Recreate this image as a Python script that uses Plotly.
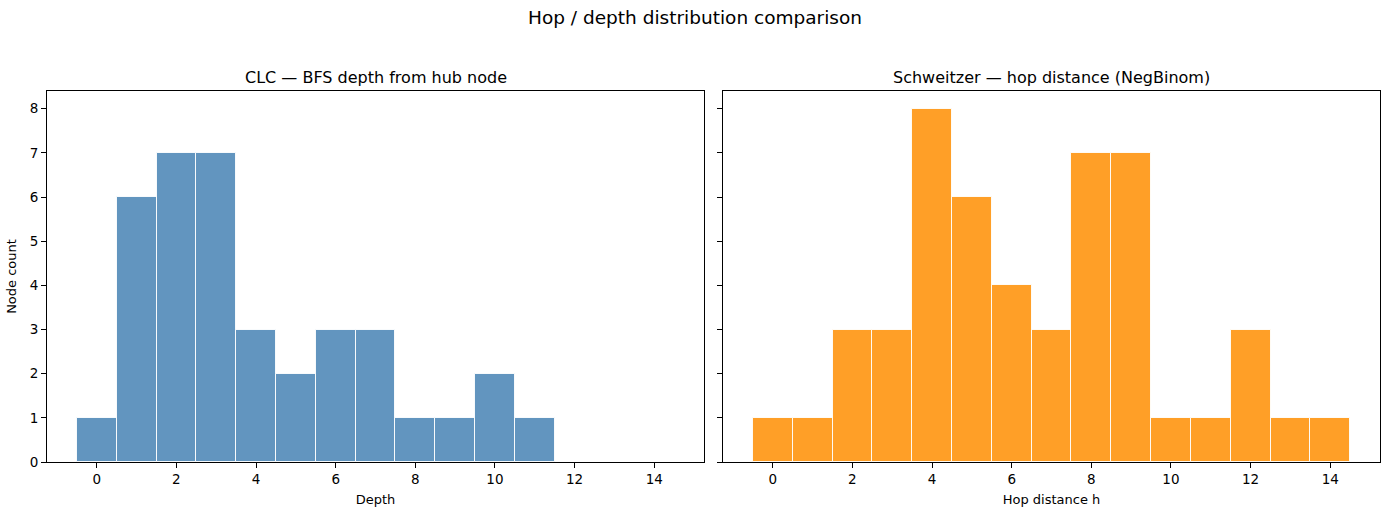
import plotly.graph_objects as go

depth_bins = list(range(0, 12))
depth_counts = [1, 6, 7, 7, 3, 2, 3, 3, 1, 1, 2, 1]
hop_bins = list(range(0, 15))
hop_counts = [1, 1, 3, 3, 8, 6, 4, 3, 7, 7, 1, 1, 3, 1, 1]

W, H = 1389, 515
FONT = "DejaVu Sans"
YSCALE = 515 / 507  # compensation for observed vertical compression

def px_x(p):
    return p / W

def px_y(p):
    return 1 - (p * YSCALE) / H

fig = go.Figure()
fig.add_trace(go.Bar(x=depth_bins, y=depth_counts, width=1,
                     marker=dict(color="#6295bf", line=dict(color="rgba(255,255,255,0.9)", width=1)),
                     xaxis="x", yaxis="y", showlegend=False))
fig.add_trace(go.Bar(x=hop_bins, y=hop_counts, width=1,
                     marker=dict(color="#ff9f27", line=dict(color="rgba(255,255,255,0.9)", width=1)),
                     xaxis="x2", yaxis="y2", showlegend=False))

axis_common = dict(showline=True, linecolor="black", linewidth=1, mirror=True,
                   ticks="outside", ticklen=5, tickwidth=1, tickcolor="black",
                   showgrid=False, zeroline=False,
                   tickfont=dict(family=FONT, size=13.5, color="black"))

ydom = [px_y(462), px_y(91)]
fig.update_layout(
    width=W, height=H, margin=dict(l=0, r=0, t=0, b=0),
    plot_bgcolor="white", paper_bgcolor="white",
    bargap=0,
    font=dict(family=FONT, color="black"),
    xaxis=dict(domain=[px_x(47), px_x(704)], range=[-1.25, 15.25], dtick=2, tick0=0,
               anchor="y", title=dict(text="Depth", font=dict(size=13), standoff=8), **axis_common),
    yaxis=dict(domain=ydom, range=[0, 8.4], dtick=1, anchor="x",
               title=dict(text="Node count", font=dict(size=13), standoff=10), **axis_common),
    xaxis2=dict(domain=[px_x(723), px_x(1380)], range=[-1.25, 15.25], dtick=2, tick0=0,
                anchor="y2", title=dict(text="Hop distance h", font=dict(size=13), standoff=8), **axis_common),
    yaxis2=dict(domain=ydom, range=[0, 8.4], dtick=1, anchor="x2", showticklabels=False, **axis_common),
    annotations=[
        dict(text="Hop / depth distribution comparison", x=0.5, y=px_y(18), xref="paper", yref="paper",
             showarrow=False, xanchor="center", yanchor="middle", font=dict(size=18.5, family=FONT)),
        dict(text="CLC — BFS depth from hub node", x=(px_x(47) + px_x(704)) / 2, y=px_y(77),
             xref="paper", yref="paper", showarrow=False, xanchor="center", yanchor="middle",
             font=dict(size=16, family=FONT)),
        dict(text="Schweitzer — hop distance (NegBinom)", x=(px_x(723) + px_x(1380)) / 2, y=px_y(77),
             xref="paper", yref="paper", showarrow=False, xanchor="center", yanchor="middle",
             font=dict(size=16, family=FONT)),
    ],
)

fig.write_html("out.html")
